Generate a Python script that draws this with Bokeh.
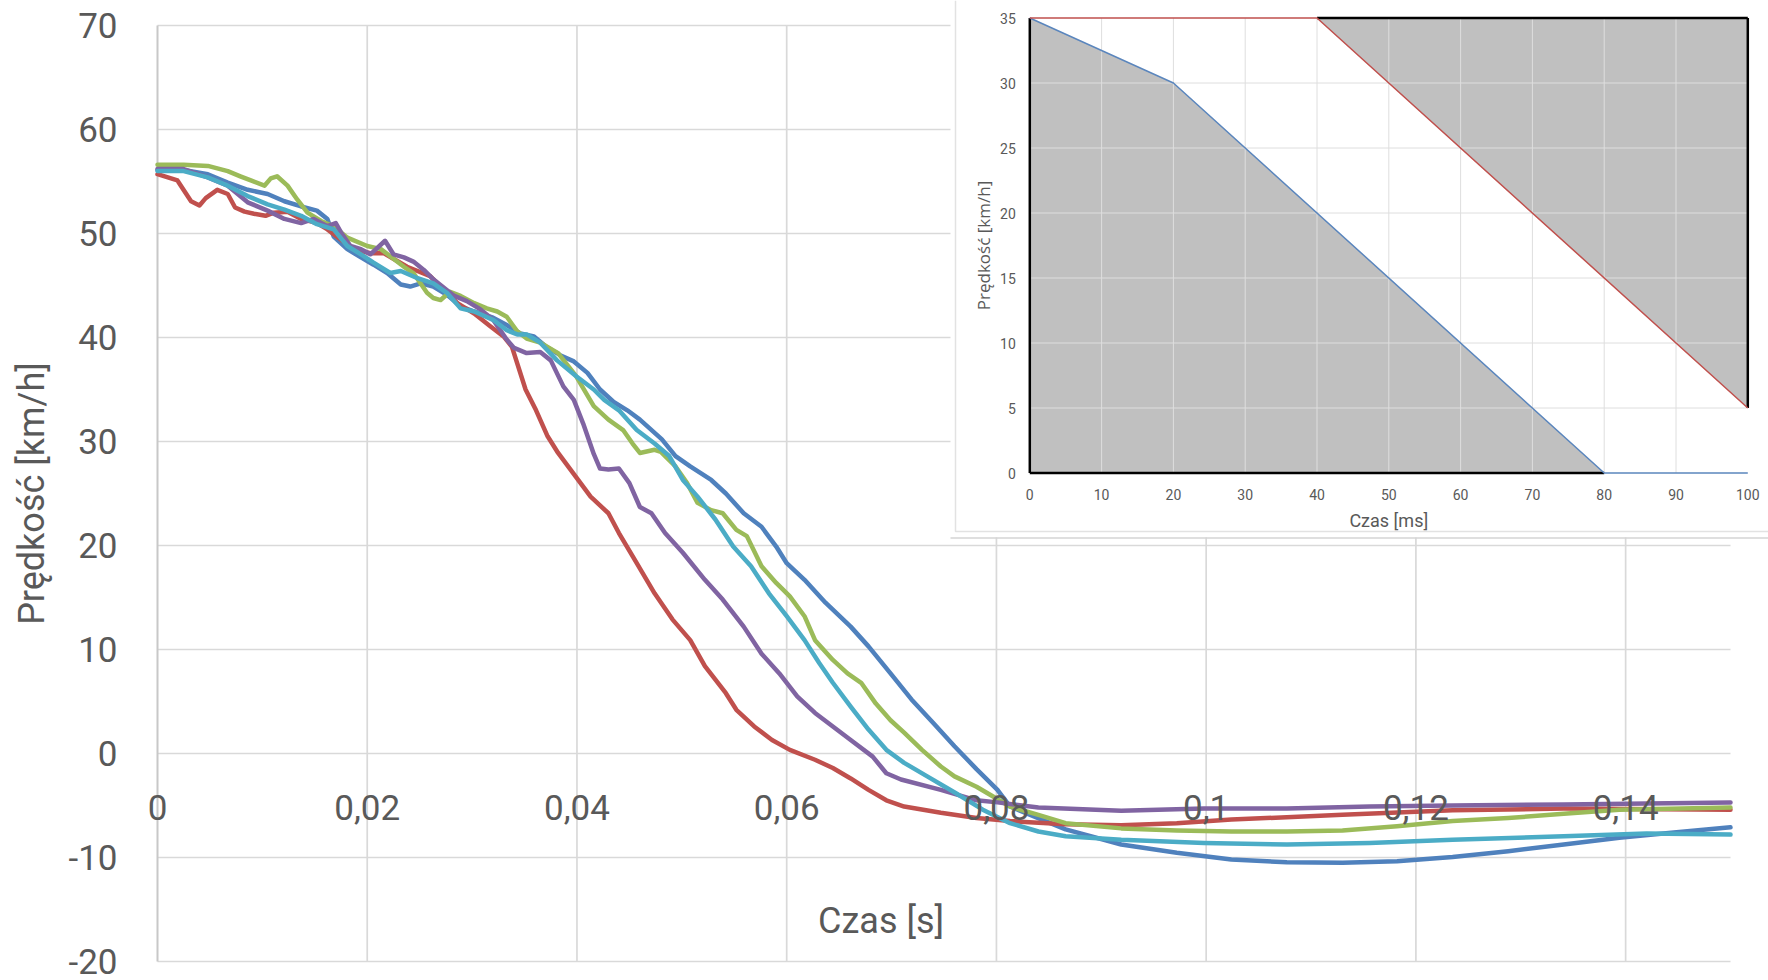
from math import pi

from bokeh.core.properties import value
from bokeh.embed import file_html
from bokeh.models import Range1d
from bokeh.plotting import figure
from bokeh.resources import INLINE

# ---------------------------------------------------------------------------
# Measured velocity traces: time [s], speed [km/h]
# ---------------------------------------------------------------------------
t_blue = [0, 0.0025, 0.0048, 0.0067, 0.0086, 0.0105, 0.0121, 0.0137, 0.0152, 0.0162,
          0.0168, 0.0181, 0.0194, 0.0206, 0.0219, 0.0232, 0.0241, 0.0251, 0.0263, 0.0276,
          0.0289, 0.0302, 0.032, 0.0333, 0.0346, 0.0359, 0.0371, 0.0384, 0.0397, 0.041,
          0.0422, 0.0435, 0.0448, 0.046, 0.0481, 0.0494, 0.0508, 0.0528, 0.0542, 0.0559,
          0.0576, 0.059, 0.06, 0.0617, 0.0637, 0.0661, 0.0678, 0.0699, 0.0719, 0.074,
          0.076, 0.0781, 0.0801, 0.0813, 0.0866, 0.0919, 0.0972, 0.1024, 0.1077, 0.113,
          0.1182, 0.1235, 0.1288, 0.1341, 0.1394, 0.1446, 0.15]
v_blue = [56.1, 56.1, 55.7, 54.9, 54.2, 53.8, 53.1, 52.6, 52.2, 51.4,
          49.7, 48.5, 47.7, 47.0, 46.2, 45.1, 44.9, 45.2, 44.9, 44.1,
          43.0, 42.5, 41.9, 41.2, 40.4, 40.1, 39.1, 38.3, 37.7, 36.6,
          35.0, 33.8, 33.0, 32.1, 30.2, 28.6, 27.6, 26.3, 25.0, 23.1,
          21.8, 19.9, 18.3, 16.7, 14.5, 12.2, 10.3, 7.7, 5.2, 2.9,
          0.7, -1.5, -3.5, -5.1, -7.3, -8.75, -9.55, -10.2, -10.45, -10.5,
          -10.35, -9.95, -9.4, -8.75, -8.1, -7.6, -7.1]

t_red = [0, 0.0019, 0.0032, 0.004, 0.0046, 0.0057, 0.0067, 0.0074, 0.0083, 0.0092,
         0.0103, 0.0111, 0.0124, 0.0137, 0.0152, 0.0162, 0.0175, 0.0187, 0.0203, 0.0216,
         0.0238, 0.026, 0.0286, 0.0302, 0.0317, 0.033, 0.0338, 0.0351, 0.0361, 0.0372,
         0.0382, 0.0399, 0.0413, 0.043, 0.044, 0.0457, 0.0474, 0.0491, 0.0508, 0.0522,
         0.0532, 0.0542, 0.0552, 0.0569, 0.0586, 0.0603, 0.0627, 0.0644, 0.0661, 0.0678,
         0.0695, 0.0712, 0.0747, 0.0781, 0.0813, 0.0866, 0.0919, 0.0972, 0.1024, 0.113,
         0.1235, 0.1341, 0.15]
v_red = [55.7, 55.1, 53.1, 52.7, 53.4, 54.2, 53.8, 52.5, 52.1, 51.9,
         51.7, 52.0, 52.1, 51.4, 51.0, 50.4, 49.4, 48.5, 48.1, 48.1,
         46.8, 45.9, 43.3, 42.3, 41.1, 40.1, 39.1, 35.0, 33.0, 30.5,
         28.9, 26.6, 24.7, 23.1, 21.2, 18.3, 15.4, 12.9, 10.9, 8.4,
         7.1, 5.8, 4.2, 2.6, 1.3, 0.35, -0.6, -1.4, -2.4, -3.5,
         -4.5, -5.1, -5.7, -6.2, -6.5, -6.8, -6.9, -6.7, -6.35, -5.9,
         -5.45, -5.3, -5.4]

t_green = [0, 0.0025, 0.0048, 0.0067, 0.0079, 0.0089, 0.0102, 0.0108, 0.0114, 0.0124,
           0.0133, 0.0143, 0.0156, 0.0168, 0.0181, 0.02, 0.0213, 0.0235, 0.0244, 0.0257,
           0.0263, 0.027, 0.0279, 0.0289, 0.0302, 0.0314, 0.0324, 0.0333, 0.0343, 0.0352,
           0.0365, 0.0382, 0.0399, 0.0416, 0.043, 0.0444, 0.0453, 0.046, 0.0474, 0.048,
           0.0494, 0.0505, 0.0515, 0.0528, 0.0539, 0.0552, 0.0562, 0.0576, 0.059, 0.0603,
           0.0617, 0.0627, 0.0644, 0.0658, 0.0671, 0.0685, 0.0699, 0.0712, 0.0729, 0.0747,
           0.076, 0.0781, 0.0813, 0.084, 0.0866, 0.0919, 0.0972, 0.1024, 0.1077, 0.113,
           0.1182, 0.1235, 0.1288, 0.1341, 0.1394, 0.15]
v_green = [56.6, 56.6, 56.5, 56.0, 55.5, 55.1, 54.6, 55.3, 55.5, 54.6,
           53.3, 52.0, 51.2, 50.7, 49.6, 48.8, 48.5, 46.8, 46.2, 44.3,
           43.8, 43.6, 44.4, 44.0, 43.3, 42.8, 42.5, 42.0, 40.6, 39.9,
           39.5, 38.5, 36.3, 33.4, 32.1, 31.1, 29.8, 28.9, 29.2, 29.0,
           27.6, 26.0, 24.1, 23.4, 23.1, 21.5, 20.9, 18.0, 16.4, 15.1,
           13.2, 10.9, 9.0, 7.7, 6.8, 4.8, 3.2, 2.0, 0.35, -1.25,
           -2.2, -3.2, -5.1, -5.9, -6.7, -7.2, -7.4, -7.5, -7.5, -7.4,
           -7.0, -6.5, -6.2, -5.8, -5.4, -5.2]

t_purple = [0, 0.0025, 0.0048, 0.0067, 0.0086, 0.0105, 0.0121, 0.0137, 0.0149, 0.0162,
            0.017, 0.0175, 0.0184, 0.0194, 0.0203, 0.0217, 0.0225, 0.0235, 0.0244, 0.0254,
            0.0263, 0.0283, 0.0295, 0.0308, 0.032, 0.0333, 0.034, 0.0352, 0.0365, 0.0375,
            0.0387, 0.0397, 0.0406, 0.0416, 0.0422, 0.043, 0.044, 0.045, 0.046, 0.0471,
            0.0484, 0.0501, 0.0522, 0.0539, 0.0559, 0.0576, 0.0593, 0.061, 0.0627, 0.0644,
            0.0661, 0.0682, 0.0695, 0.0709, 0.0747, 0.0781, 0.0801, 0.084, 0.0919, 0.0998,
            0.1077, 0.1156, 0.1235, 0.1341, 0.15]
v_purple = [56.2, 56.2, 55.4, 54.6, 53.0, 52.2, 51.4, 51.0, 51.4, 50.7,
            51.0, 50.1, 48.8, 48.5, 48.0, 49.3, 48.0, 47.7, 47.3, 46.5,
            45.6, 44.0, 43.5, 42.7, 41.7, 39.8, 39.0, 38.5, 38.6, 37.8,
            35.3, 34.0, 31.7, 28.8, 27.4, 27.3, 27.4, 26.0, 23.7, 23.1,
            21.2, 19.3, 16.7, 14.8, 12.2, 9.6, 7.7, 5.5, 3.9, 2.6,
            1.3, -0.3, -1.9, -2.5, -3.5, -4.5, -4.7, -5.2, -5.5, -5.3,
            -5.3, -5.1, -5.0, -4.9, -4.7]

t_aqua = [0, 0.0025, 0.0048, 0.0067, 0.0086, 0.0105, 0.0121, 0.0137, 0.0152, 0.0168,
          0.0181, 0.0194, 0.0206, 0.0222, 0.0232, 0.0248, 0.0263, 0.0276, 0.0289, 0.0302,
          0.032, 0.0333, 0.0343, 0.0352, 0.0365, 0.0381, 0.0399, 0.0416, 0.0426, 0.044,
          0.0457, 0.0474, 0.0488, 0.0501, 0.0515, 0.0532, 0.0549, 0.0566, 0.0583, 0.06,
          0.0617, 0.0631, 0.0644, 0.0661, 0.0678, 0.0695, 0.0712, 0.0734, 0.0761, 0.0787,
          0.0813, 0.084, 0.0866, 0.0919, 0.0998, 0.1077, 0.1156, 0.1235, 0.1341, 0.142,
          0.15]
v_aqua = [56.0, 56.0, 55.4, 54.6, 53.6, 52.8, 52.3, 51.7, 50.9, 50.4,
          48.8, 48.0, 47.2, 46.2, 46.4, 45.7, 45.2, 44.3, 42.8, 42.5,
          41.7, 40.7, 40.3, 40.3, 39.5, 37.8, 36.3, 35.0, 34.0, 33.0,
          31.1, 29.8, 28.6, 26.3, 24.7, 22.5, 19.9, 18.0, 15.4, 13.2,
          10.9, 8.7, 6.8, 4.5, 2.3, 0.35, -0.9, -2.2, -3.8, -5.4,
          -6.7, -7.5, -7.95, -8.3, -8.6, -8.75, -8.6, -8.3, -7.95, -7.7,
          -7.8]

series_colors = ["#4F81BD", "#C0504D", "#9BBB59", "#8064A2", "#4BACC6"]

main_x_ticks = [0, 0.02, 0.04, 0.06, 0.08, 0.1, 0.12, 0.14]
main_x_labels = ["0", "0,02", "0,04", "0,06", "0,08", "0,1", "0,12", "0,14"]
main_y_ticks = [-20, -10, 0, 10, 20, 30, 40, 50, 60, 70]
main_y_labels = ["-20", "-10", "0", "10", "20", "30", "40", "50", "60", "70"]

# Inset: speed corridor [km/h] over time [ms]
corridor_low_t = [0, 20, 80, 100]
corridor_low_v = [35, 30, 0, 0]
corridor_high_t = [0, 40, 100]
corridor_high_v = [35, 35, 5]
inset_x_ticks = [0, 10, 20, 30, 40, 50, 60, 70, 80, 90, 100]
inset_y_ticks = [0, 5, 10, 15, 20, 25, 30, 35]

# ---------------------------------------------------------------------------
# Page geometry: the plot frame covers the whole page, two coordinate systems
# ---------------------------------------------------------------------------
W, H = 1768, 980

# main chart: t = 0 at px 157, 0.15 s at px 1730; 70 km/h at px 25, -20 at px 961
MX0, MX1 = 157.0, 1730.0
MY_TOP, MY_BOT = 25.0, 961.0
T_MAX, V_MIN, V_MAX = 0.15, -20, 70
sx_main = (MX1 - MX0) / T_MAX
sy_main = (MY_BOT - MY_TOP) / (V_MAX - V_MIN)

# inset chart origin (page px) and scales
IN_X0, IN_Y0 = 1029.3, 472.5
sx_in, sy_in = 7.18, 13.0


def ms_at(px):
    return (px - IN_X0) / sx_in


def kmh_at(py):
    return (IN_Y0 - py) / sy_in


GRAY_TXT = "#595959"
GRID = "#d9d9d9"
FONT = "Roboto"

p = figure(width=W, height=H, output_backend="svg", toolbar_location=None,
           x_range=Range1d(-MX0 / sx_main, (W - MX0) / sx_main),
           y_range=Range1d(V_MIN - (H - MY_BOT) / sy_main, V_MAX + MY_TOP / sy_main),
           x_axis_location=None, y_axis_location=None,
           min_border_left=0, min_border_right=0, min_border_top=0, min_border_bottom=0)
p.extra_x_ranges = {"ms": Range1d(ms_at(0), ms_at(W))}
p.extra_y_ranges = {"kmh": Range1d(kmh_at(H), kmh_at(0))}
p.outline_line_color = None
p.background_fill_color = "white"
p.border_fill_color = "white"
p.xgrid.visible = False
p.ygrid.visible = False

# main grid
p.segment(x0=[0] * len(main_y_ticks), x1=[T_MAX] * len(main_y_ticks),
          y0=main_y_ticks, y1=main_y_ticks, line_color=GRID, line_width=1.7)
vx = main_x_ticks[1:]
p.segment(x0=vx, x1=vx, y0=[V_MIN] * len(vx), y1=[V_MAX] * len(vx),
          line_color=GRID, line_width=1.7)
# vertical axis line
p.segment(x0=[0], x1=[0], y0=[V_MIN], y1=[V_MAX], line_color="#c8c8c8", line_width=2)

# velocity traces
for (tt, vv), c in zip([(t_blue, v_blue), (t_red, v_red), (t_green, v_green),
                        (t_purple, v_purple), (t_aqua, v_aqua)], series_colors):
    p.line(tt, vv, line_color=c, line_width=4.5, line_join="round", line_cap="round")

# tick labels and axis titles
p.text(x=[0] * len(main_y_ticks), y=main_y_ticks, text=main_y_labels,
       x_offset=-40, text_align="right", text_baseline="middle",
       text_font=value(FONT), text_font_size=value("35px"), text_color=GRAY_TXT)
p.text(x=main_x_ticks, y=[0] * len(main_x_ticks), text=main_x_labels,
       y_offset=54, text_align="center", text_baseline="middle",
       text_font=value(FONT), text_font_size=value("35px"), text_color=GRAY_TXT)
p.text(x=[0.069], y=[-16.15], text=["Czas [s]"], text_align="center",
       text_baseline="middle", text_font=value(FONT),
       text_font_size=value("36px"), text_color=GRAY_TXT)
p.text(x=[0], y=[(V_MIN + V_MAX) / 2], text=["Prędkość [km/h]"], x_offset=-126,
       angle=pi / 2, text_align="center", text_baseline="middle",
       text_font=value(FONT), text_font_size=value("36px"), text_color=GRAY_TXT)

# ---------------------------------------------------------------------------
# Inset chart
# ---------------------------------------------------------------------------
R = dict(x_range_name="ms", y_range_name="kmh")
p.quad(left=[ms_at(950)], right=[ms_at(W)], bottom=[kmh_at(537)], top=[kmh_at(0)],
       fill_color="white", line_color=None, **R)
p.line([ms_at(950), ms_at(W)], [kmh_at(537.5), kmh_at(537.5)],
       line_color="#d4d4d4", line_width=1.5, **R)
p.line([ms_at(955), ms_at(955), ms_at(W)], [kmh_at(0), kmh_at(531), kmh_at(531)],
       line_color="#e2e2e2", line_width=1.5, **R)

# shaded regions outside the corridor
low_x = [corridor_low_t[0]] + corridor_low_t[:3]
low_y = [0] + corridor_low_v[:3]
p.patch(low_x, low_y, fill_color="#c0c0c0", line_color=None, **R)
high_x = corridor_high_t[1:] + [corridor_high_t[-1]]
high_y = corridor_high_v[1:] + [corridor_high_v[1]]
p.patch(high_x, high_y, fill_color="#c0c0c0", line_color=None, **R)

# inset grid
gx = inset_x_ticks[1:-1]
p.segment(x0=gx, x1=gx, y0=[0] * len(gx), y1=[35] * len(gx),
          line_color="#dedede", line_width=1, **R)
gy = inset_y_ticks[1:-1]
p.segment(x0=[0] * len(gy), x1=[100] * len(gy), y0=gy, y1=gy,
          line_color="#dedede", line_width=1, **R)

# black outlines of the shaded regions
p.multi_line(xs=[[0, 0], [0, 80], [40, 100], [100, 100]],
             ys=[[0, 35], [0, 0], [35, 35], [35, 5]],
             line_color="black", line_width=2.5, **R)

# corridor limits
p.line(corridor_low_t, corridor_low_v, line_color="#5b86bd", line_width=1.5, **R)
p.line(corridor_high_t, corridor_high_v, line_color="#c0504d", line_width=1.5, **R)

# inset labels
p.text(x=inset_x_ticks, y=[0] * len(inset_x_ticks), text=[str(v) for v in inset_x_ticks],
       y_offset=21.5, text_align="center", text_baseline="middle",
       text_font=value(FONT), text_font_size=value("14px"), text_color=GRAY_TXT, **R)
p.text(x=[0] * len(inset_y_ticks), y=inset_y_ticks, text=[str(v) for v in inset_y_ticks],
       x_offset=-14, text_align="right", text_baseline="middle",
       text_font=value(FONT), text_font_size=value("14px"), text_color=GRAY_TXT, **R)
p.text(x=[50], y=[0], text=["Czas [ms]"], y_offset=47, text_align="center",
       text_baseline="middle", text_font=value(FONT), text_font_size=value("18px"),
       text_color=GRAY_TXT, **R)
p.text(x=[0], y=[17.5], text=["Prędkość [km/h]"], x_offset=-46, angle=pi / 2,
       text_align="center", text_baseline="middle", text_font=value("Open Sans"),
       text_font_size=value("17px"), text_color=GRAY_TXT, **R)

open("out.html", "w").write(file_html(p, INLINE))
